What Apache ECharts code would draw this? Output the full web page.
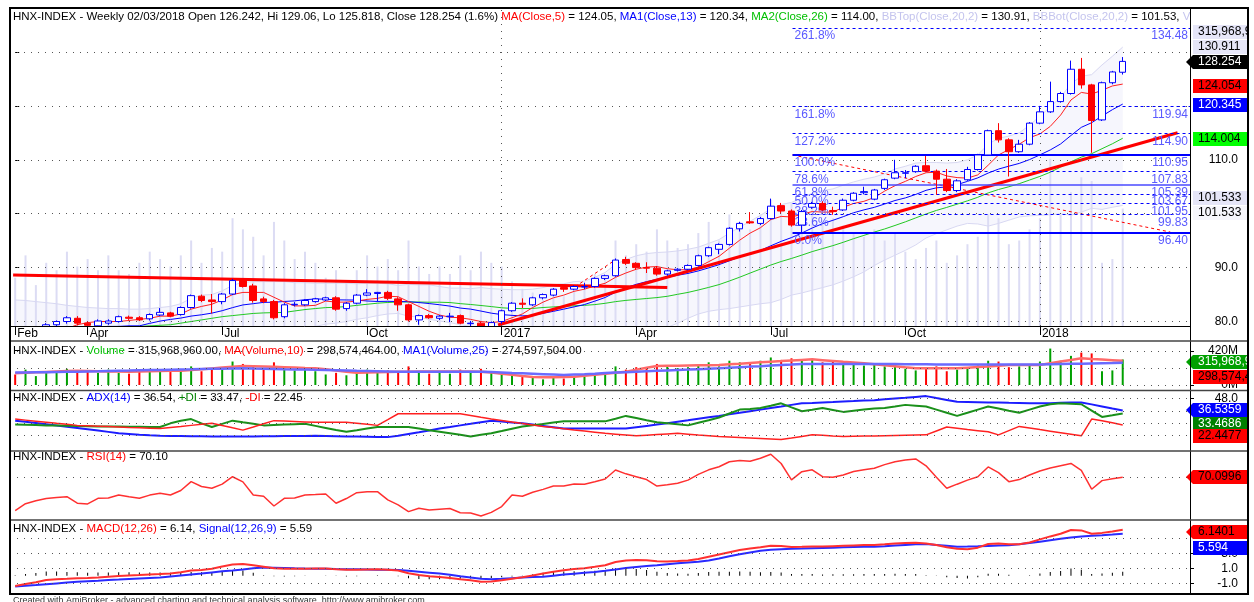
<!DOCTYPE html>
<html>
<head>
<meta charset="utf-8">
<script src="https://cdn.jsdelivr.net/npm/echarts@6/dist/echarts.min.js"></script>
<style>
html, body { margin: 0; padding: 0; background: #fff; }
#main { width: 1254px; height: 602px; }
</style>
</head>
<body>
<div id="main"></div>
<script>
// HNX-INDEX weekly, Feb 2016 - 02/03/2018
var nSlots = 114; // 108 weeks + empty space on the right
var tickIndex = [0, 7, 20, 34, 47, 60, 73, 86, 99];
var tickText = ['Feb', 'Apr', 'Jul', 'Oct', '2017', 'Apr', 'Jul', 'Oct', '2018'];

var opens = [
  76.2, 75.6, 76.2, 77.0, 79.4, 80.0, 80.6, 79.7, 79.2, 79.7,
  80.0, 80.8, 80.7, 80.5, 81.2, 81.6, 81.3, 82.6, 84.7, 84.0,
  83.7, 85.1, 87.6, 86.6, 84.2, 83.7, 80.9, 83.1, 83.1, 83.7,
  84.0, 84.4, 82.4, 83.4, 84.9, 85.2, 85.4, 84.2, 83.1, 80.3,
  81.1, 80.6, 80.9, 81.1, 79.6, 79.7, 78.7, 80.0, 82.0, 83.4,
  83.1, 84.4, 84.9, 86.3, 86.0, 86.4, 86.5, 88.0, 88.5, 91.5,
  90.8, 90.0, 89.9, 88.8, 89.5, 89.7, 90.4, 92.2, 93.4, 94.3,
  97.2, 98.5, 98.2, 99.1, 101.5, 100.5, 97.9, 101.2, 101.9, 100.6,
  100.7, 102.5, 103.9, 102.7, 104.7, 106.6, 107.5, 107.8, 108.9, 107.9,
  106.4, 104.3, 106.3, 108.2, 110.9, 115.4, 113.7, 111.5, 112.9, 116.8,
  118.9, 120.8, 122.3, 126.8, 123.9, 117.4, 124.3, 126.242
];
var highs = [
  76.9, 76.6, 77.3, 79.7, 80.2, 81.0, 81.0, 80.0, 80.4, 80.4,
  81.1, 81.1, 81.0, 81.5, 82.5, 81.8, 82.8, 85.0, 85.0, 85.1,
  85.3, 87.9, 87.9, 87.0, 84.6, 84.0, 83.4, 83.6, 84.1, 84.4,
  84.6, 84.7, 83.6, 85.1, 86.0, 85.5, 85.7, 84.5, 83.3, 81.3,
  81.4, 81.2, 81.6, 81.3, 80.1, 80.0, 80.0, 82.2, 83.6, 84.3,
  84.6, 85.2, 86.2, 86.6, 86.7, 87.2, 88.2, 88.7, 91.7, 92.0,
  91.0, 91.0, 90.3, 89.6, 89.9, 90.6, 92.4, 93.9, 94.5, 97.5,
  98.5, 100.3, 99.4, 102.8, 102.0, 100.8, 100.7, 102.2, 102.3, 101.3,
  102.8, 104.0, 105.0, 104.6, 106.5, 110.0, 108.1, 109.0, 110.7, 108.2,
  108.3, 106.4, 108.7, 111.1, 115.6, 116.8, 114.0, 113.7, 117.0, 120.0,
  124.5, 122.6, 128.4, 128.9, 124.1, 124.5, 126.5, 129.06
];
var lows = [
  75.0, 74.9, 75.9, 76.8, 79.0, 79.6, 79.3, 78.9, 78.9, 79.4,
  79.8, 80.3, 80.1, 80.2, 81.0, 80.8, 81.1, 82.4, 83.6, 81.5,
  83.2, 84.9, 86.3, 83.5, 83.4, 80.4, 80.6, 82.8, 82.9, 83.5,
  83.8, 82.0, 82.0, 83.2, 84.7, 83.7, 84.0, 82.0, 80.0, 79.4,
  80.5, 80.3, 79.9, 79.5, 79.1, 78.4, 78.3, 79.6, 81.8, 82.5,
  82.9, 84.1, 84.7, 85.5, 85.8, 86.0, 86.3, 87.7, 88.3, 90.5,
  89.6, 89.0, 88.5, 88.5, 89.3, 89.5, 90.2, 92.0, 92.5, 94.1,
  96.7, 98.1, 97.9, 98.9, 100.1, 97.6, 96.5, 100.9, 100.5, 99.8,
  100.5, 102.3, 103.6, 102.5, 104.4, 106.4, 106.6, 107.6, 107.7, 103.5,
  104.0, 104.0, 106.1, 108.0, 110.7, 113.2, 106.9, 111.3, 112.7, 116.6,
  118.7, 120.6, 122.1, 123.2, 111.3, 117.2, 124.0, 125.818
];
var closes = [
  75.6, 76.2, 77.0, 79.4, 80.0, 80.7, 79.7, 79.3, 80.1, 80.1,
  80.9, 80.6, 80.3, 81.3, 81.7, 81.0, 82.6, 84.8, 83.9, 83.7,
  85.1, 87.6, 86.5, 83.9, 83.7, 80.7, 83.1, 83.2, 83.9, 84.2,
  84.4, 82.3, 83.4, 84.9, 85.3, 85.4, 84.3, 83.1, 80.3, 81.1,
  80.7, 81.0, 81.0, 79.7, 79.7, 78.7, 79.8, 82.0, 83.4, 83.2,
  84.4, 85.0, 86.0, 86.0, 86.5, 86.5, 88.0, 88.5, 91.4, 90.8,
  90.0, 89.9, 88.8, 89.4, 89.7, 90.4, 92.2, 93.7, 94.3, 97.3,
  98.2, 98.3, 99.1, 101.4, 100.5, 97.9, 100.4, 101.9, 100.7, 100.4,
  102.5, 103.8, 104.1, 104.4, 106.3, 107.6, 107.6, 108.8, 107.9, 106.4,
  104.3, 106.1, 108.2, 110.9, 115.4, 113.7, 111.5, 112.9, 116.8, 118.9,
  120.8, 122.3, 126.8, 123.9, 117.3, 124.3, 126.3, 128.254
];
var ma5 = [
  76.5, 76.8, 77.0, 77.3, 77.6, 78.7, 79.4, 79.8, 80.0, 80.0,
  80.0, 80.2, 80.4, 80.6, 81.0, 81.0, 81.4, 82.3, 82.8, 83.2,
  84.0, 85.0, 85.4, 85.4, 85.4, 84.5, 83.6, 82.9, 82.9, 83.0,
  83.8, 83.6, 83.6, 83.8, 84.1, 84.3, 84.7, 84.6, 83.7, 82.8,
  81.9, 81.2, 80.8, 80.7, 80.4, 80.0, 79.8, 80.0, 80.7, 81.4,
  82.6, 83.6, 84.4, 84.9, 85.6, 86.0, 86.6, 87.1, 88.2, 89.0,
  89.7, 90.1, 90.2, 89.8, 89.6, 89.6, 90.1, 91.1, 92.1, 93.6,
  95.1, 96.4, 97.4, 98.9, 99.5, 99.4, 99.9, 100.4, 100.3, 100.3,
  101.2, 101.9, 102.3, 103.0, 104.2, 105.2, 106.0, 106.9, 107.6, 107.7,
  107.0, 106.7, 106.6, 107.2, 109.0, 110.9, 111.9, 112.9, 114.1, 114.8,
  116.2, 118.3, 121.1, 122.5, 122.2, 122.9, 123.7, 124.05
];
var ma13 = [
  77.6, 77.8, 78.0, 78.2, 78.4, 78.6, 78.8, 78.9, 79.0, 79.1,
  79.1, 79.2, 79.2, 79.66, 80.08, 80.39, 80.64, 81.01, 81.25, 81.56,
  82.01, 82.58, 83.08, 83.31, 83.55, 83.58, 83.72, 83.83, 84.05, 84.18,
  84.15, 84.02, 84.0, 83.98, 83.81, 83.72, 83.75, 83.71, 83.68, 83.52,
  83.33, 83.11, 82.86, 82.5, 82.3, 81.94, 81.55, 81.29, 81.14, 81.05,
  81.15, 81.52, 81.89, 82.3, 82.72, 83.15, 83.78, 84.46, 85.44, 86.28,
  86.9, 87.4, 87.83, 88.22, 88.58, 88.92, 89.39, 89.95, 90.55, 91.26,
  92.01, 92.54, 93.18, 94.05, 94.87, 95.57, 96.42, 97.35, 98.15, 98.78,
  99.45, 100.18, 100.71, 101.18, 101.8, 102.45, 102.93, 103.57, 104.34, 104.8,
  104.98, 105.4, 106.0, 106.65, 107.54, 108.28, 108.82, 109.33, 110.04, 110.91,
  111.83, 112.94, 114.51, 116.02, 116.88, 118.12, 119.3, 120.34
];
var ma26 = [
  78.0, 78.1, 78.2, 78.3, 78.4, 78.5, 78.6, 78.7, 78.8, 78.9,
  79.0, 79.05, 79.1, 79.2, 79.3, 79.4, 79.7, 80.0, 80.3, 80.6,
  80.9, 81.1, 81.3, 81.5, 81.6, 81.65, 81.69, 81.96, 82.22, 82.41,
  82.58, 82.64, 82.78, 83.0, 83.2, 83.4, 83.53, 83.63, 83.63, 83.62,
  83.58, 83.58, 83.52, 83.32, 83.16, 82.97, 82.77, 82.55, 82.43, 82.4,
  82.43, 82.6, 82.71, 82.82, 82.92, 83.0, 83.14, 83.38, 83.69, 83.92,
  84.1, 84.27, 84.44, 84.68, 85.05, 85.4, 85.85, 86.33, 86.85, 87.52,
  88.23, 88.99, 89.73, 90.48, 91.13, 91.7, 92.32, 92.97, 93.53, 94.08,
  94.7, 95.37, 95.98, 96.6, 97.17, 97.82, 98.49, 99.22, 99.95, 100.61,
  101.17, 101.77, 102.39, 103.05, 103.86, 104.49, 105.0, 105.57, 106.25, 106.92,
  107.7, 108.64, 109.65, 110.5, 111.14, 112.06, 112.97, 114.0
];
var bbTop = [
  84.0, 83.9, 83.7, 83.5, 83.3, 83.0, 82.8, 82.6, 82.5, 82.4,
  82.4, 82.3, 82.3, 82.4, 82.6, 82.8, 83.3, 84.3, 84.9, 85.0,
  85.7, 86.7, 87.3, 87.4, 87.4, 87.4, 87.4, 87.2, 87.2, 87.1,
  87.1, 87.1, 87.1, 87.0, 87.1, 87.1, 87.0, 86.7, 86.9, 86.8,
  86.8, 86.5, 86.2, 86.2, 86.1, 86.3, 86.1, 86.0, 85.9, 85.9,
  86.0, 86.3, 86.8, 87.0, 87.4, 87.5, 88.2, 89.1, 90.6, 91.5,
  92.2, 92.6, 92.8, 92.9, 93.1, 93.4, 93.8, 94.5, 95.2, 96.4,
  97.5, 98.6, 99.7, 100.9, 101.7, 102.1, 102.9, 103.8, 104.3, 104.6,
  105.3, 105.9, 106.4, 106.8, 107.4, 108.3, 108.8, 109.4, 109.5, 109.5,
  109.4, 109.5, 110.0, 110.9, 112.9, 114.0, 114.4, 115.0, 116.4, 118.1,
  119.8, 121.6, 124.1, 125.5, 125.8, 127.6, 129.2, 130.91
];
var bbBot = [
  74.5, 74.6, 74.7, 74.8, 75.0, 75.3, 75.6, 76.0, 76.5, 77.0,
  77.5, 77.8, 78.0, 78.1, 78.1, 78.0, 77.6, 77.0, 76.4, 75.9,
  76.1, 76.3, 76.7, 77.0, 77.4, 77.4, 77.8, 78.2, 78.6, 79.1,
  79.5, 79.7, 80.0, 80.4, 80.7, 81.1, 81.4, 81.5, 81.0, 80.8,
  80.4, 80.1, 79.8, 79.4, 79.1, 78.7, 78.5, 78.6, 78.5, 78.5,
  78.4, 78.3, 78.2, 78.0, 77.8, 77.7, 77.4, 77.1, 76.6, 76.7,
  77.0, 77.4, 78.0, 78.9, 79.7, 80.6, 81.4, 81.9, 82.2, 82.4,
  82.7, 83.0, 83.3, 83.5, 84.1, 84.9, 85.3, 85.8, 86.3, 86.8,
  87.5, 88.3, 89.2, 90.4, 91.4, 92.3, 93.2, 94.2, 95.5, 96.3,
  97.0, 97.7, 98.2, 98.1, 97.7, 98.2, 98.8, 99.4, 99.6, 99.7,
  99.8, 100.0, 99.7, 100.3, 101.0, 100.8, 101.2, 101.53
];
// volume in millions of shares
var volume = [
  130, 190, 110, 170, 150, 200, 160, 180, 150, 190,
  150, 140, 170, 200, 180, 160, 190, 230, 170, 210,
  200, 290, 260, 240, 190, 280, 230, 180, 200, 170,
  130, 150, 120, 150, 190, 160, 180, 150, 230, 160,
  140, 160, 140, 190, 150, 200, 170, 160, 120, 100,
  90, 70, 100, 80, 110, 100, 140, 130, 230, 190,
  220, 200, 260, 230, 210, 220, 250, 280, 230, 300,
  280, 260, 300, 340, 310, 330, 300, 320, 280, 290,
  270, 250, 240, 260, 230, 250, 200, 180, 210, 230,
  170, 190, 220, 240, 300, 290, 220, 230, 260, 290,
  450, 300, 360, 400, 390, 170, 180, 315.97
];
var volMa10 = [
  144, 150, 156, 162, 168, 174, 177, 174, 170, 167,
  166, 165, 167, 169, 172, 175, 177, 185, 195, 205,
  215, 225, 235, 232, 228, 224, 220, 215, 210, 206,
  195, 180, 165, 152, 155, 158, 161, 163, 165, 166,
  166, 166, 166, 166, 166, 165, 155, 140, 125, 112,
  100, 95, 97, 100, 103, 115, 128, 140, 152, 165,
  188, 212, 235, 237, 239, 241, 243, 245, 247, 255,
  263, 272, 280, 288, 295, 303, 310, 317, 307, 297,
  287, 278, 268, 256, 243, 231, 218, 206, 206, 206,
  206, 206, 214, 222, 230, 239, 247, 247, 247, 247,
  270, 290, 310, 330, 322, 315, 307, 298.57
];
var volMa25 = [
  153, 155, 157, 159, 161, 163, 165, 168, 170, 173,
  176, 178, 181, 184, 186, 189, 192, 194, 197, 200,
  202, 204, 206, 203, 201, 198, 195, 193, 190, 187,
  185, 182, 179, 176, 174, 171, 168, 165, 165, 165,
  165, 165, 165, 165, 165, 165, 160, 155, 149, 144,
  139, 134, 129, 124, 129, 134, 140, 147, 153, 159,
  165, 170, 175, 180, 185, 190, 196, 201, 206, 213,
  220, 227, 233, 240, 247, 253, 260, 260, 260, 260,
  260, 260, 260, 260, 259, 258, 257, 256, 255, 254,
  253, 252, 252, 252, 252, 252, 252, 252, 252, 252,
  255, 258, 261, 264, 267, 270, 272, 274.6
];
var adx = [
  26.6, 25.5, 24.3, 23.1, 21.9, 20.6, 19.4, 18.2, 17.0, 15.7,
  14.3, 13.7, 13.0, 12.4, 11.9, 11.8, 11.7, 11.5, 11.4, 11.3,
  11.3, 11.2, 11.2, 11.2, 11.4, 11.5, 11.6, 11.7, 11.8, 11.9,
  11.7, 11.5, 11.3, 11.1, 10.9, 10.7, 10.6, 11.9, 13.6, 15.3,
  17.1, 18.9, 20.4, 22.0, 23.5, 25.1, 26.6, 25.8, 24.9, 24.1,
  22.8, 21.5, 20.2, 18.9, 18.9, 18.9, 18.9, 18.9, 18.9, 18.9,
  20.2, 21.5, 22.8, 24.1, 25.5, 26.9, 28.4, 29.8, 31.2, 32.7,
  34.2, 35.8, 37.3, 38.8, 40.3, 41.9, 43.4, 43.8, 44.3, 44.7,
  45.2, 45.6, 46.1, 46.5, 47.3, 48.1, 48.8, 49.6, 50.4, 48.5,
  46.7, 44.9, 44.7, 44.5, 44.3, 44.1, 43.9, 43.8, 43.6, 43.4,
  43.6, 43.9, 44.1, 44.3, 42.4, 40.4, 38.4, 36.54
];
var plusDi = [
  22.9, 22.6, 22.3, 22.0, 21.8, 21.6, 21.4, 21.2, 21.0, 20.9,
  20.8, 20.7, 20.6, 20.5, 20.4, 24.0, 26.5, 28.1, 24.0, 20.4,
  23.5, 26.6, 25.0, 23.5, 22.0, 22.4, 22.8, 23.2, 23.5, 21.5,
  19.5, 17.5, 15.8, 17.3, 18.9, 20.4, 20.4, 20.4, 20.4, 18.9,
  17.3, 15.8, 14.3, 12.8, 11.2, 12.8, 14.3, 16.5, 18.8, 21.0,
  22.2, 23.4, 24.7, 25.9, 25.9, 25.9, 25.9, 25.9, 28.5, 31.2,
  29.1, 27.0, 25.0, 24.0, 23.0, 22.0, 24.5, 27.0, 29.6, 33.5,
  37.3, 38.0, 38.8, 41.0, 43.4, 39.5, 35.7, 37.2, 38.8, 37.0,
  35.1, 36.2, 37.3, 38.4, 38.8, 40.3, 41.9, 41.1, 40.3, 37.3,
  34.2, 31.2, 34.2, 37.3, 40.3, 38.3, 36.2, 34.2, 37.3, 40.3,
  42.5, 43.4, 43.0, 42.5, 36.4, 30.2, 31.8, 33.47
];
var minusDi = [
  28.1, 27.1, 26.1, 25.1, 24.0, 23.0, 22.0, 21.6, 21.2, 20.8,
  20.4, 20.0, 19.7, 19.3, 18.9, 19.9, 20.9, 22.0, 23.0, 24.1,
  21.9, 19.6, 17.4, 20.4, 23.5, 26.6, 26.2, 25.8, 25.4, 25.0,
  25.0, 25.0, 25.0, 24.0, 23.0, 22.0, 27.6, 33.3, 33.3, 33.3,
  33.3, 33.3, 33.3, 33.3, 31.6, 29.8, 28.1, 26.7, 25.3, 23.9,
  22.4, 21.0, 19.9, 18.8, 17.6, 16.5, 15.4, 14.3, 13.5, 12.7,
  11.9, 12.5, 13.1, 13.7, 14.3, 13.5, 12.7, 12.0, 11.2, 10.7,
  10.2, 9.7, 9.2, 8.7, 8.2, 9.7, 11.3, 12.8, 12.3, 11.7,
  11.2, 11.4, 11.6, 11.8, 12.0, 12.2, 12.4, 12.6, 12.8, 16.6,
  20.4, 19.2, 18.0, 16.9, 15.8, 12.8, 16.9, 21.0, 19.5, 17.9,
  16.4, 14.9, 13.4, 11.9, 28.1, 26.4, 24.6, 22.45
];
var rsi = [
  41.0, 47.0, 49.5, 51.5, 52.5, 53.1, 47.5, 46.8, 51.7, 52.0,
  54.6, 53.0, 51.7, 54.5, 56.1, 54.6, 58.5, 66.2, 62.0, 60.4,
  64.0, 70.5, 66.0, 54.6, 53.5, 45.0, 51.7, 52.0, 54.6, 55.0,
  55.5, 47.4, 51.5, 56.6, 57.5, 57.5, 50.3, 46.0, 40.1, 43.0,
  41.5, 42.2, 42.8, 39.2, 39.0, 36.3, 39.5, 44.5, 54.6, 53.5,
  57.0, 59.5, 62.4, 62.5, 64.2, 64.0, 66.2, 68.5, 76.3, 73.0,
  70.5, 68.0, 62.4, 63.5, 64.8, 67.5, 72.5, 76.5, 79.2, 83.5,
  84.5, 84.0, 86.5, 90.0, 82.0, 67.7, 74.9, 76.5, 70.5, 70.0,
  72.0, 75.0, 76.5, 77.8, 81.0, 83.5, 85.0, 86.0, 80.0, 70.0,
  60.4, 64.0, 67.5, 70.5, 79.0, 74.0, 66.2, 68.0, 72.0, 75.5,
  78.0, 80.0, 82.0, 76.0, 59.6, 67.1, 68.8, 70.1
];
var macd = [
  -1.36, -1.1, -0.85, -0.56, -0.45, -0.40, -0.34, -0.30, -0.22, -0.12,
  -0.03, 0.04, 0.10, 0.17, 0.24, 0.32, 0.48, 0.70, 0.77, 0.95,
  1.25, 1.50, 1.57, 1.40, 1.21, 1.02, 0.95, 0.95, 0.95, 0.96,
  0.97, 0.86, 0.80, 0.80, 0.85, 0.88, 0.80, 0.70, 0.35, 0.10,
  -0.05, -0.15, -0.30, -0.45, -0.58, -0.79, -0.75, -0.60, -0.40, -0.20,
  0.05, 0.30, 0.55, 0.75, 0.90, 1.02, 1.20, 1.40, 1.85, 2.05,
  2.10, 2.08, 1.95, 1.92, 1.98, 2.05, 2.25, 2.55, 2.85, 3.15,
  3.45, 3.65, 3.82, 4.00, 3.98, 3.85, 3.88, 3.92, 3.90, 3.95,
  4.00, 4.05, 4.10, 4.12, 4.20, 4.30, 4.36, 4.42, 4.30, 4.10,
  3.80, 3.60, 3.55, 3.75, 4.24, 4.30, 4.20, 4.22, 4.45, 4.85,
  5.25, 5.60, 6.11, 6.05, 5.60, 5.72, 5.90, 6.14
];
var signal = [
  -1.44, -1.33, -1.23, -1.12, -1.01, -0.90, -0.80, -0.72, -0.65, -0.57,
  -0.50, -0.42, -0.35, -0.28, -0.21, -0.08, 0.05, 0.18, 0.30, 0.45,
  0.60, 0.72, 0.85, 1.00, 1.12, 1.08, 1.04, 1.00, 0.97, 0.95,
  0.93, 0.90, 0.88, 0.86, 0.84, 0.82, 0.80, 0.77, 0.66, 0.54,
  0.42, 0.30, 0.15, -0.05, -0.22, -0.38, -0.47, -0.40, -0.32, -0.24,
  -0.17, -0.12, 0.02, 0.16, 0.29, 0.42, 0.52, 0.68, 0.85, 1.03,
  1.18, 1.30, 1.42, 1.55, 1.67, 1.78, 1.86, 2.05, 2.30, 2.60,
  2.88, 3.12, 3.35, 3.48, 3.55, 3.60, 3.63, 3.67, 3.71, 3.75,
  3.79, 3.83, 3.86, 3.88, 3.95, 4.04, 4.12, 4.19, 4.24, 4.12,
  4.00, 3.88, 3.90, 3.93, 3.98, 4.03, 4.06, 4.20, 4.38, 4.55,
  4.75, 4.95, 5.12, 5.25, 5.35, 5.42, 5.50, 5.59
];

// drawn studies (x in week index units)
var resistLine = [[-0.2, 88.63], [63.0, 86.31]];
var upTrend = [[46.65, 79.35], [112.3, 115.03]];
var downTrend = [[75.1, 110.9], [111.6, 96.6]];
var shortTrend = [[54.1, 86.46], [57.8, 91.2]];
var fibStart = 75.1;
var fibPct = ['261.8%', '161.8%', '127.2%', '100.0%', '78.6%', '61.8%', '50.0%', '38.2%', '23.6%', '0.0%'];
var fibVal = [134.48, 119.94, 114.90, 110.95, 107.83, 105.39, 103.67, 101.95, 99.83, 96.40];

// ---------------------------------------------------------------
var FONT = '"Liberation Sans", Arial, sans-serif';
var categories = [];
for (var i = 0; i < nSlots; i++) categories.push(String(i));
var tickMap = {};
tickIndex.forEach(function (k, j) { tickMap[k] = tickText[j]; });

var candles = opens.map(function (o, i) { return [o, closes[i], lows[i], highs[i]]; });
var volColored = volume.map(function (v, i) {
  return { value: v, itemStyle: { color: closes[i] >= opens[i] ? '#00a000' : '#ff0000' } };
});
var bbSpan = bbTop.map(function (t, i) { return +(t - bbBot[i]).toFixed(2); });
var hist = macd.map(function (m, i) { return +(m - signal[i]).toFixed(2); });

function dots(vals, extra) {
  var d = vals.map(function (v) { return { yAxis: v }; });
  return {
    silent: true, symbol: ['none', 'none'], label: { show: false },
    lineStyle: { type: [1, 6], color: '#555', width: 1 },
    data: d.concat(extra || [])
  };
}

var fibStyle = {
  '100.0%': { type: 'solid', width: 2, color: '#0000ff' },
  '0.0%': { type: 'solid', width: 2, color: '#0000ff' },
  '61.8%': { type: 'solid', width: 1.5, color: '#4a4aff' }
};
function fibLines(which) {
  return {
    silent: true, symbol: ['none', 'none'],
    data: fibPct.map(function (p, k) {
      var st = fibStyle[p] || { type: [3, 3], width: 1, color: '#0000ff' };
      if (which === 'val') st = { color: 'rgba(255,255,255,0)', width: 0 };
      return [
        {
          coord: [fibStart, fibVal[k]], lineStyle: st,
          label: {
            show: true, position: which === 'val' ? 'insideEndBottom' : 'insideStartBottom',
            distance: [2, 2],
            formatter: which === 'val' ? fibVal[k].toFixed(2) : p,
            color: '#5a5aff', opacity: 1, fontSize: 12, fontFamily: FONT
          }
        },
        { coord: [nSlots - 0.5, fibVal[k]] }
      ];
    })
  };
}

var gridTops = [10, 343, 392, 452, 522];
var gridHs = [316, 46, 58, 67, 68];
var grids = gridTops.map(function (t, k) { return { left: 10, top: t, width: 1180, height: gridHs[k] }; });

var showTick = function (idx) { return tickMap[idx] !== undefined; };
var xAxes = [{
  type: 'category', gridIndex: 0, data: categories, boundaryGap: true, z: 10,
  axisLine: { show: true, lineStyle: { color: '#000', width: 1 } },
  axisTick: { show: true, alignWithLabel: true, interval: showTick, length: 9, lineStyle: { color: '#000' } },
  axisLabel: {
    interval: showTick, formatter: function (v, idx) { return tickMap[idx] || ''; },
    color: '#000', fontSize: 12, fontFamily: FONT, align: 'left', margin: 2, padding: [0, 0, 0, 2]
  },
  splitLine: { show: false }
}];
for (var g = 1; g < 5; g++) {
  xAxes.push({ type: 'category', gridIndex: g, data: categories, boundaryGap: true, show: false });
}
xAxes.push({ type: 'value', gridIndex: 0, min: -0.5, max: nSlots - 0.5, show: false });

function yAx(grid, min, max, ticks, labels, fmt) {
  return {
    type: 'value', gridIndex: grid, position: 'right', min: min, max: max, scale: true,
    axisLine: { show: false },
    splitLine: { show: false },
    axisTick: { show: ticks.length > 0, customValues: ticks, length: 4, inside: false, lineStyle: { color: '#000' } },
    axisLabel: {
      show: labels.length > 0, customValues: labels, formatter: fmt, margin: 48, align: 'right',
      color: '#000', fontSize: 12, fontFamily: FONT
    }
  };
}
var yAxes = [
  yAx(0, 79.17, 137.79, [80, 90, 100, 110, 120, 130], [80, 90, 110], function (v) { return v.toFixed(1); }),
  { type: 'value', gridIndex: 0, min: 0, max: 850, show: false },
  yAx(1, -49.4, 518.8, [0, 420], [0, 420], function (v) { return v + 'M'; }),
  yAx(2, -1.9, 54.4, [48], [48], function (v) { return v.toFixed(1); }),
  yAx(3, 33.7, 92, [], [], null),
  yAx(4, -1.89, 7.17, [-1, 1, 3], [-1, 1, 3], function (v) { return v.toFixed(1); })
];

function line(name, data, color, width, xi, yi, z, extra) {
  var s = {
    name: name, type: 'line', data: data, xAxisIndex: xi, yAxisIndex: yi, z: z,
    showSymbol: false, symbol: 'none', silent: true,
    lineStyle: { color: color, width: width }
  };
  for (var k in extra || {}) s[k] = extra[k];
  return s;
}

var series = [
  { name: 'volOverlay', type: 'bar', data: volume, xAxisIndex: 0, yAxisIndex: 1, barWidth: 2, z: 1, silent: true,
    itemStyle: { color: '#dcdcf4' } },
  line('bbBase', bbBot, 'rgba(0,0,0,0)', 0, 0, 0, 1, { stack: 'bb' }),
  line('bbSpan', bbSpan, 'rgba(0,0,0,0)', 0, 0, 0, 1, { stack: 'bb', areaStyle: { color: '#f6f6fd', opacity: 1 } }),
  line('bbTop', bbTop, '#d8d8f2', 1, 0, 0, 2),
  line('bbBot', bbBot, '#d8d8f2', 1, 0, 0, 2),
  line('ma26', ma26, '#22c822', 1, 0, 0, 3, {
    markLine: dots([80, 90, 100, 110, 120, 130], [{ xAxis: '47' }, { xAxis: '99' }])
  }),
  line('ma13', ma13, '#0000ff', 1, 0, 0, 3),
  line('ma5', ma5, '#ff2020', 1, 0, 0, 3),
  line('resist', resistLine, '#ff0000', 3, 5, 0, 4),
  line('upTrend', upTrend, '#ff0000', 3, 5, 0, 4, { markLine: fibLines('pct') }),
  line('downTrend', downTrend, '#ff0000', 1, 5, 0, 4, { lineStyle: { color: '#ff0000', width: 1, type: [3, 3] } }),
  line('shortTrend', shortTrend, '#ff0000', 1, 5, 0, 4, { lineStyle: { color: '#ff0000', width: 1, type: [3, 3] } }),
  line('fibValues', [], '#0000ff', 1, 5, 0, 4, { markLine: fibLines('val') }),
  { name: 'price', type: 'candlestick', data: candles, xAxisIndex: 0, yAxisIndex: 0, z: 5, barWidth: 7, silent: true, clip: true,
    itemStyle: { color: '#ffffff', color0: '#ff0000', borderColor: '#0000ff', borderColor0: '#ff0000', borderWidth: 1 } },

  { name: 'volume', type: 'bar', data: volColored, xAxisIndex: 1, yAxisIndex: 2, barWidth: 2, z: 2, silent: true,
    markLine: dots([0, 210, 420]) },
  line('volMa10', volMa10, '#ff6a6a', 2.5, 1, 2, 3),
  line('volMa25', volMa25, '#6a6aff', 2.5, 1, 2, 3),

  line('adx', adx, '#1c1cff', 2, 2, 3, 3, { markLine: dots([12, 24, 36, 48]) }),
  line('plusDi', plusDi, '#1a901a', 2, 2, 3, 3),
  line('minusDi', minusDi, '#ff2020', 1.5, 2, 3, 3),

  line('rsi', rsi, '#ff3030', 1.5, 3, 4, 3, { markLine: dots([70]) }),

  { name: 'hist', type: 'bar', data: hist, xAxisIndex: 4, yAxisIndex: 5, barWidth: 1, z: 2, silent: true,
    itemStyle: { color: '#000' }, markLine: dots([-1, 1, 3, 5]) },
  line('signal', signal, '#2a2aff', 2, 4, 5, 3),
  line('macd', macd, '#ff3030', 2, 4, 5, 4)
];

var chart = echarts.init(document.getElementById('main'), null, { renderer: 'canvas' });
chart.setOption({
  animation: false,
  backgroundColor: '#ffffff',
  grid: grids,
  xAxis: xAxes,
  yAxis: yAxes,
  series: series
});

// ---------- titles, tags, frame ----------
var TF = '11.5px ' + FONT;
var richStyles = {
  k: { fill: '#000', font: TF },
  r: { fill: '#ff0000', font: TF },
  b: { fill: '#0000ff', font: TF },
  g: { fill: '#00c000', font: TF },
  dg: { fill: '#008000', font: TF },
  l: { fill: '#c4c4ee', font: TF }
};
function title(y, parts) {
  return {
    type: 'text', z: 40, silent: true,
    style: {
      x: 13, y: y, text: parts.map(function (p) { return '{' + p[1] + '|' + p[0] + '}'; }).join(''),
      rich: richStyles, verticalAlign: 'middle', textVerticalAlign: 'middle', font: TF
    }
  };
}
var titles = [
  [17, [['HNX-INDEX - Weekly 02/03/2018 Open 126.242, Hi 129.06, Lo 125.818, Close 128.254 (1.6%) ', 'k'], ['MA(Close,5)', 'r'], [' = 124.05, ', 'k'],
        ['MA1(Close,13)', 'b'], [' = 120.34, ', 'k'], ['MA2(Close,26)', 'g'], [' = 114.00, ', 'k'],
        ['BBTop(Close,20,2)', 'l'], [' = 130.91, ', 'k'], ['BBBot(Close,20,2)', 'l'], [' = 101.53, ', 'k'], ['V', 'l']]],
  [351, [['HNX-INDEX - ', 'k'], ['Volume', 'g'], [' = 315,968,960.00, ', 'k'], ['MA(Volume,10)', 'r'], [' = 298,574,464.00, ', 'k'],
         ['MA1(Volume,25)', 'b'], [' = 274,597,504.00', 'k']]],
  [398, [['HNX-INDEX - ', 'k'], ['ADX(14)', 'b'], [' = 36.54, ', 'k'], ['+DI', 'dg'], [' = 33.47, ', 'k'], ['-DI', 'r'], [' = 22.45', 'k']]],
  [457, [['HNX-INDEX - ', 'k'], ['RSI(14)', 'r'], [' = 70.10', 'k']]],
  [529, [['HNX-INDEX - ', 'k'], ['MACD(12,26)', 'r'], [' = 6.14, ', 'k'], ['Signal(12,26,9)', 'b'], [' = 5.59', 'k']]]
];

function tag(y, text, bg, fg, arrow) {
  var pts = arrow ? [[1186, y], [1193, y - 7], [1248, y - 7], [1248, y + 7], [1193, y + 7]]
                  : [[1193, y - 7], [1248, y - 7], [1248, y + 7], [1193, y + 7]];
  return [
    { type: 'polygon', z: 50, silent: true, shape: { points: pts }, style: { fill: bg } },
    { type: 'text', z: 51, silent: true, style: { x: 1198, y: y, text: text, fill: fg, font: '12px ' + FONT,
      verticalAlign: 'middle', textVerticalAlign: 'middle' } }
  ];
}
function py(axis, v) { return chart.convertToPixel({ yAxisIndex: axis }, v); }

// [axis, value, pixel shift, text, background, text colour, arrow]
var tags = [
  [null, 32, 0, '315,968,9', '#e6e6f8', '#000', false],
  [0, 130.911, 0, '130.911', '#e6e6f8', '#000', false],
  [0, 128.254, 1, '128.254', '#000000', '#fff', true],
  [0, 124.054, 1.5, '124.054', '#ff0000', '#000', false],
  [0, 120.345, 1, '120.345', '#0000ff', '#fff', false],
  [0, 114.004, 1, '114.004', '#00ff00', '#000', false],
  [0, 101.533, -7, '101.533', '#e6e6f8', '#000', false],
  [0, 101.533, 8, '101.533', '#f6f6fc', '#000', false],
  [2, 315.97, 2.5, '315,968,9', '#00a000', '#fff', true],
  [2, 298.57, 16, '298,574,4', '#ff0000', '#000', false],
  [3, 36.54, 0, '36.5359', '#0000ff', '#fff', true],
  [3, 33.47, 10.5, '33.4686', '#008000', '#fff', false],
  [3, 22.45, 11, '22.4477', '#ff0000', '#000', false],
  [4, 70.1, 0, '70.0996', '#ff0000', '#000', true],
  [5, 6.14, 2, '6.1401', '#ff0000', '#000', true],
  [5, 5.594, 14.5, '5.594', '#0000ff', '#fff', false]
];

var gfx = [];
// hide the parts of candles that hang below the price axis (x-axis draws above this)
gfx.push({ type: 'rect', z: 8, silent: true, shape: { x: 11, y: 326.5, width: 1179, height: 14 }, style: { fill: '#fff' } });
titles.forEach(function (t) { gfx.push(title(t[0], t[1])); });
tags.forEach(function (t) {
  var y = t[0] === null ? t[1] : py(t[0], t[1]) + t[2];
  gfx = gfx.concat(tag(Math.round(y), t[3], t[4], t[5], t[6]));
});
// frame and panel separators
gfx.push({ type: 'rect', z: 60, silent: true, shape: { x: 1249, y: 0, width: 6, height: 602 }, style: { fill: '#fff' } });
gfx.push({ type: 'line', z: 61, silent: true, shape: { x1: 1190.5, y1: 8, x2: 1190.5, y2: 594 }, style: { stroke: '#000', lineWidth: 1 } });
[341, 390.5, 451, 520].forEach(function (y) {
  gfx.push({ type: 'line', z: 61, silent: true, shape: { x1: 10, y1: y, x2: 1248, y2: y }, style: { stroke: '#444', lineWidth: 1.5 } });
});
gfx.push({ type: 'rect', z: 62, silent: true, shape: { x: 10, y: 8, width: 1238, height: 586 },
  style: { fill: 'none', stroke: '#000', lineWidth: 2 } });
gfx.push({ type: 'text', z: 62, silent: true, style: { x: 13, y: 596, text: 'Created with AmiBroker - advanced charting and technical analysis software. http://www.amibroker.com',
  fill: '#333', font: '9px ' + FONT, verticalAlign: 'top', textVerticalAlign: 'top' } });

chart.setOption({ graphic: { elements: gfx } });
</script>
</body>
</html>
